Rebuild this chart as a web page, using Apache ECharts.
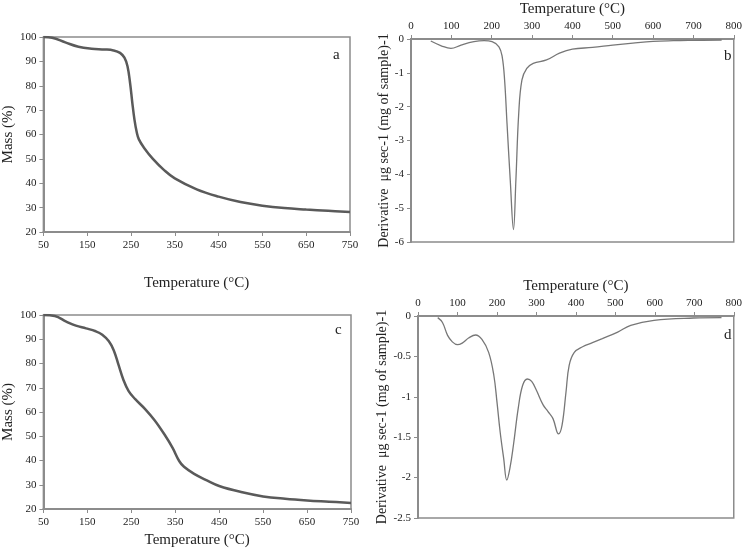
<!DOCTYPE html>
<html><head><meta charset="utf-8">
<script src="https://cdn.jsdelivr.net/npm/echarts@6/dist/echarts.min.js"></script>
<style>html,body{margin:0;padding:0;background:#fff}#c{width:745px;height:549px}</style>
</head><body><div id="c"></div>
<script>
// Panel a: TG
const tempA = [50,70,100,130,160,190,210,225,235,242,248,253,258,263,268,280,300,325,350,400,450,500,550,600,650,700,750];
const massA = [100,99.7,97.8,96.0,95.2,94.9,94.5,93.5,91.5,88,81,73,66,61,58,54.5,50,45.5,42,37.5,34.5,32.3,30.8,29.8,29.2,28.7,28.2];
// Panel b: DTG
const tempB = [49,75,99,124,156,181,201,218,226,232,238,246,254,260,267,275,287,303,336,368,400,450,500,550,600,650,700,770];
const derivB = [-0.06,-0.2,-0.28,-0.18,-0.08,-0.05,-0.08,-0.23,-0.52,-1.21,-2.5,-4.17,-5.63,-4.17,-2.2,-1.21,-0.87,-0.72,-0.62,-0.42,-0.3,-0.25,-0.18,-0.12,-0.07,-0.05,-0.04,-0.03];
// Panel c: TG
const tempC = [50,76,102,124,147,169,184,199,210,221,232,244,259,281,303,326,344,359,370,393,422,450,500,550,600,650,700,750];
const massC = [100,99.6,97.3,95.6,94.5,93.3,91.9,89.2,85.5,79.4,73.3,68.6,65.3,61.3,56.6,50.6,45.2,39.8,37.4,34.5,31.8,29.5,27,25.2,24.2,23.5,23,22.5];
// Panel d: DTG
const tempD = [50,62,75,87,100,112,129,146,162,179,192,200,208,217,225,233,242,254,265,277,288,300,317,329,342,356,365,375,383,396,417,442,467,506,539,598,698,769];
const derivD = [-0.02,-0.08,-0.24,-0.32,-0.355,-0.335,-0.27,-0.235,-0.29,-0.45,-0.73,-1.06,-1.43,-1.76,-2.03,-1.88,-1.59,-1.14,-0.86,-0.78,-0.81,-0.92,-1.1,-1.18,-1.27,-1.46,-1.35,-0.94,-0.61,-0.45,-0.38,-0.33,-0.28,-0.2,-0.115,-0.053,-0.025,-0.02];

const tgTicks = [50,150,250,350,450,550,650,750];
const panelLetters = ['a','b','c','d'];
const xTitle = 'Temperature (°C)';
const tgYTitle = 'Mass (%)';
const dtgYTitle = 'Derivative  μg sec-1 (mg of sample)-1';

const FONT = 'Liberation Serif';
const AX = '#8c8c8c';
const txt = '#222';

function tgX(idx, gap){
  return {type:'value', gridIndex:idx, min:50, max:750,
    name:xTitle, nameLocation:'middle', nameGap:gap,
    nameTextStyle:{fontFamily:FONT,fontSize:15,color:txt},
    axisLine:{lineStyle:{color:AX,width:2}},
    axisTick:{customValues:tgTicks, length:4, lineStyle:{color:AX}},
    axisLabel:{customValues:tgTicks, fontFamily:FONT,fontSize:11,color:txt, margin:8},
    splitLine:{show:false}};
}
function tgY(idx){
  return {type:'value', gridIndex:idx, min:20, max:100, interval:10,
    name:tgYTitle, nameLocation:'middle', nameGap:24, nameRotate:90,
    nameTextStyle:{fontFamily:FONT,fontSize:15,color:txt},
    axisLine:{show:true,lineStyle:{color:AX,width:2}},
    axisTick:{show:true,length:4,lineStyle:{color:AX}},
    axisLabel:{fontFamily:FONT,fontSize:11,color:txt,margin:7},
    splitLine:{show:false}};
}
function dtgX(idx, gap){
  return {type:'value', gridIndex:idx, min:0, max:800, interval:100, position:'top',
    name:xTitle, nameLocation:'middle', nameGap:gap,
    nameTextStyle:{fontFamily:FONT,fontSize:15,color:txt},
    axisLine:{lineStyle:{color:AX,width:2}},
    axisTick:{length:4,lineStyle:{color:AX}},
    axisLabel:{fontFamily:FONT,fontSize:11,color:txt,margin:7},
    splitLine:{show:false}};
}
function dtgY(idx, min, interval, gap){
  return {type:'value', gridIndex:idx, min:min, max:0, interval:interval,
    name:dtgYTitle, nameLocation:'middle', nameGap:gap, nameRotate:90,
    nameTextStyle:{fontFamily:FONT,fontSize:14,color:txt},
    axisLine:{show:true,lineStyle:{color:AX,width:2}},
    axisTick:{show:true,length:4,lineStyle:{color:AX}},
    axisLabel:{fontFamily:FONT,fontSize:11,color:txt,margin:7},
    splitLine:{show:false}};
}
function zip(a,b){return a.map((t,i)=>[t,b[i]]);}

const chart = echarts.init(document.getElementById('c'), null, {renderer:'canvas'});
chart.setOption({
  animation:false,
  backgroundColor:'#fff',
  grid:[
    {left:40, top:37, width:310, height:195, show:true, borderColor:AX, borderWidth:1.5, backgroundColor:'transparent'},
    {left:411, top:39, width:326, height:203, show:true, borderColor:AX, borderWidth:1.5, backgroundColor:'transparent'},
    {left:40, top:315, width:311, height:197, show:true, borderColor:AX, borderWidth:1.5, backgroundColor:'transparent'},
    {left:418, top:316, width:319, height:202, show:true, borderColor:AX, borderWidth:1.5, backgroundColor:'transparent'}
  ],
  xAxis:[tgX(0,44), dtgX(1,22), tgX(2,24), dtgX(3,22)],
  yAxis:[tgY(0), dtgY(1,-6,1,20), tgY(2), dtgY(3,-2.5,0.5,26)],
  title:[
    {text:panelLetters[0], left:328, top:43},
    {text:panelLetters[1], left:719, top:44},
    {text:panelLetters[2], left:330, top:318},
    {text:panelLetters[3], left:719, top:323}
  ].map(t=>Object.assign(t,{textStyle:{fontFamily:FONT,fontSize:15,fontWeight:'normal',color:txt}})),
  series:[
    {type:'line', xAxisIndex:0, yAxisIndex:0, data:zip(tempA,massA), smooth:0.4, symbol:'none', lineStyle:{color:'#5a5a5a',width:2.5}},
    {type:'line', xAxisIndex:1, yAxisIndex:1, data:zip(tempB,derivB), smooth:0.4, symbol:'none', lineStyle:{color:'#777',width:1.3}},
    {type:'line', xAxisIndex:2, yAxisIndex:2, data:zip(tempC,massC), smooth:0.4, symbol:'none', lineStyle:{color:'#5a5a5a',width:2.5}},
    {type:'line', xAxisIndex:3, yAxisIndex:3, data:zip(tempD,derivD), smooth:0.4, symbol:'none', lineStyle:{color:'#777',width:1.3}}
  ]
});
</script>
</body></html>
